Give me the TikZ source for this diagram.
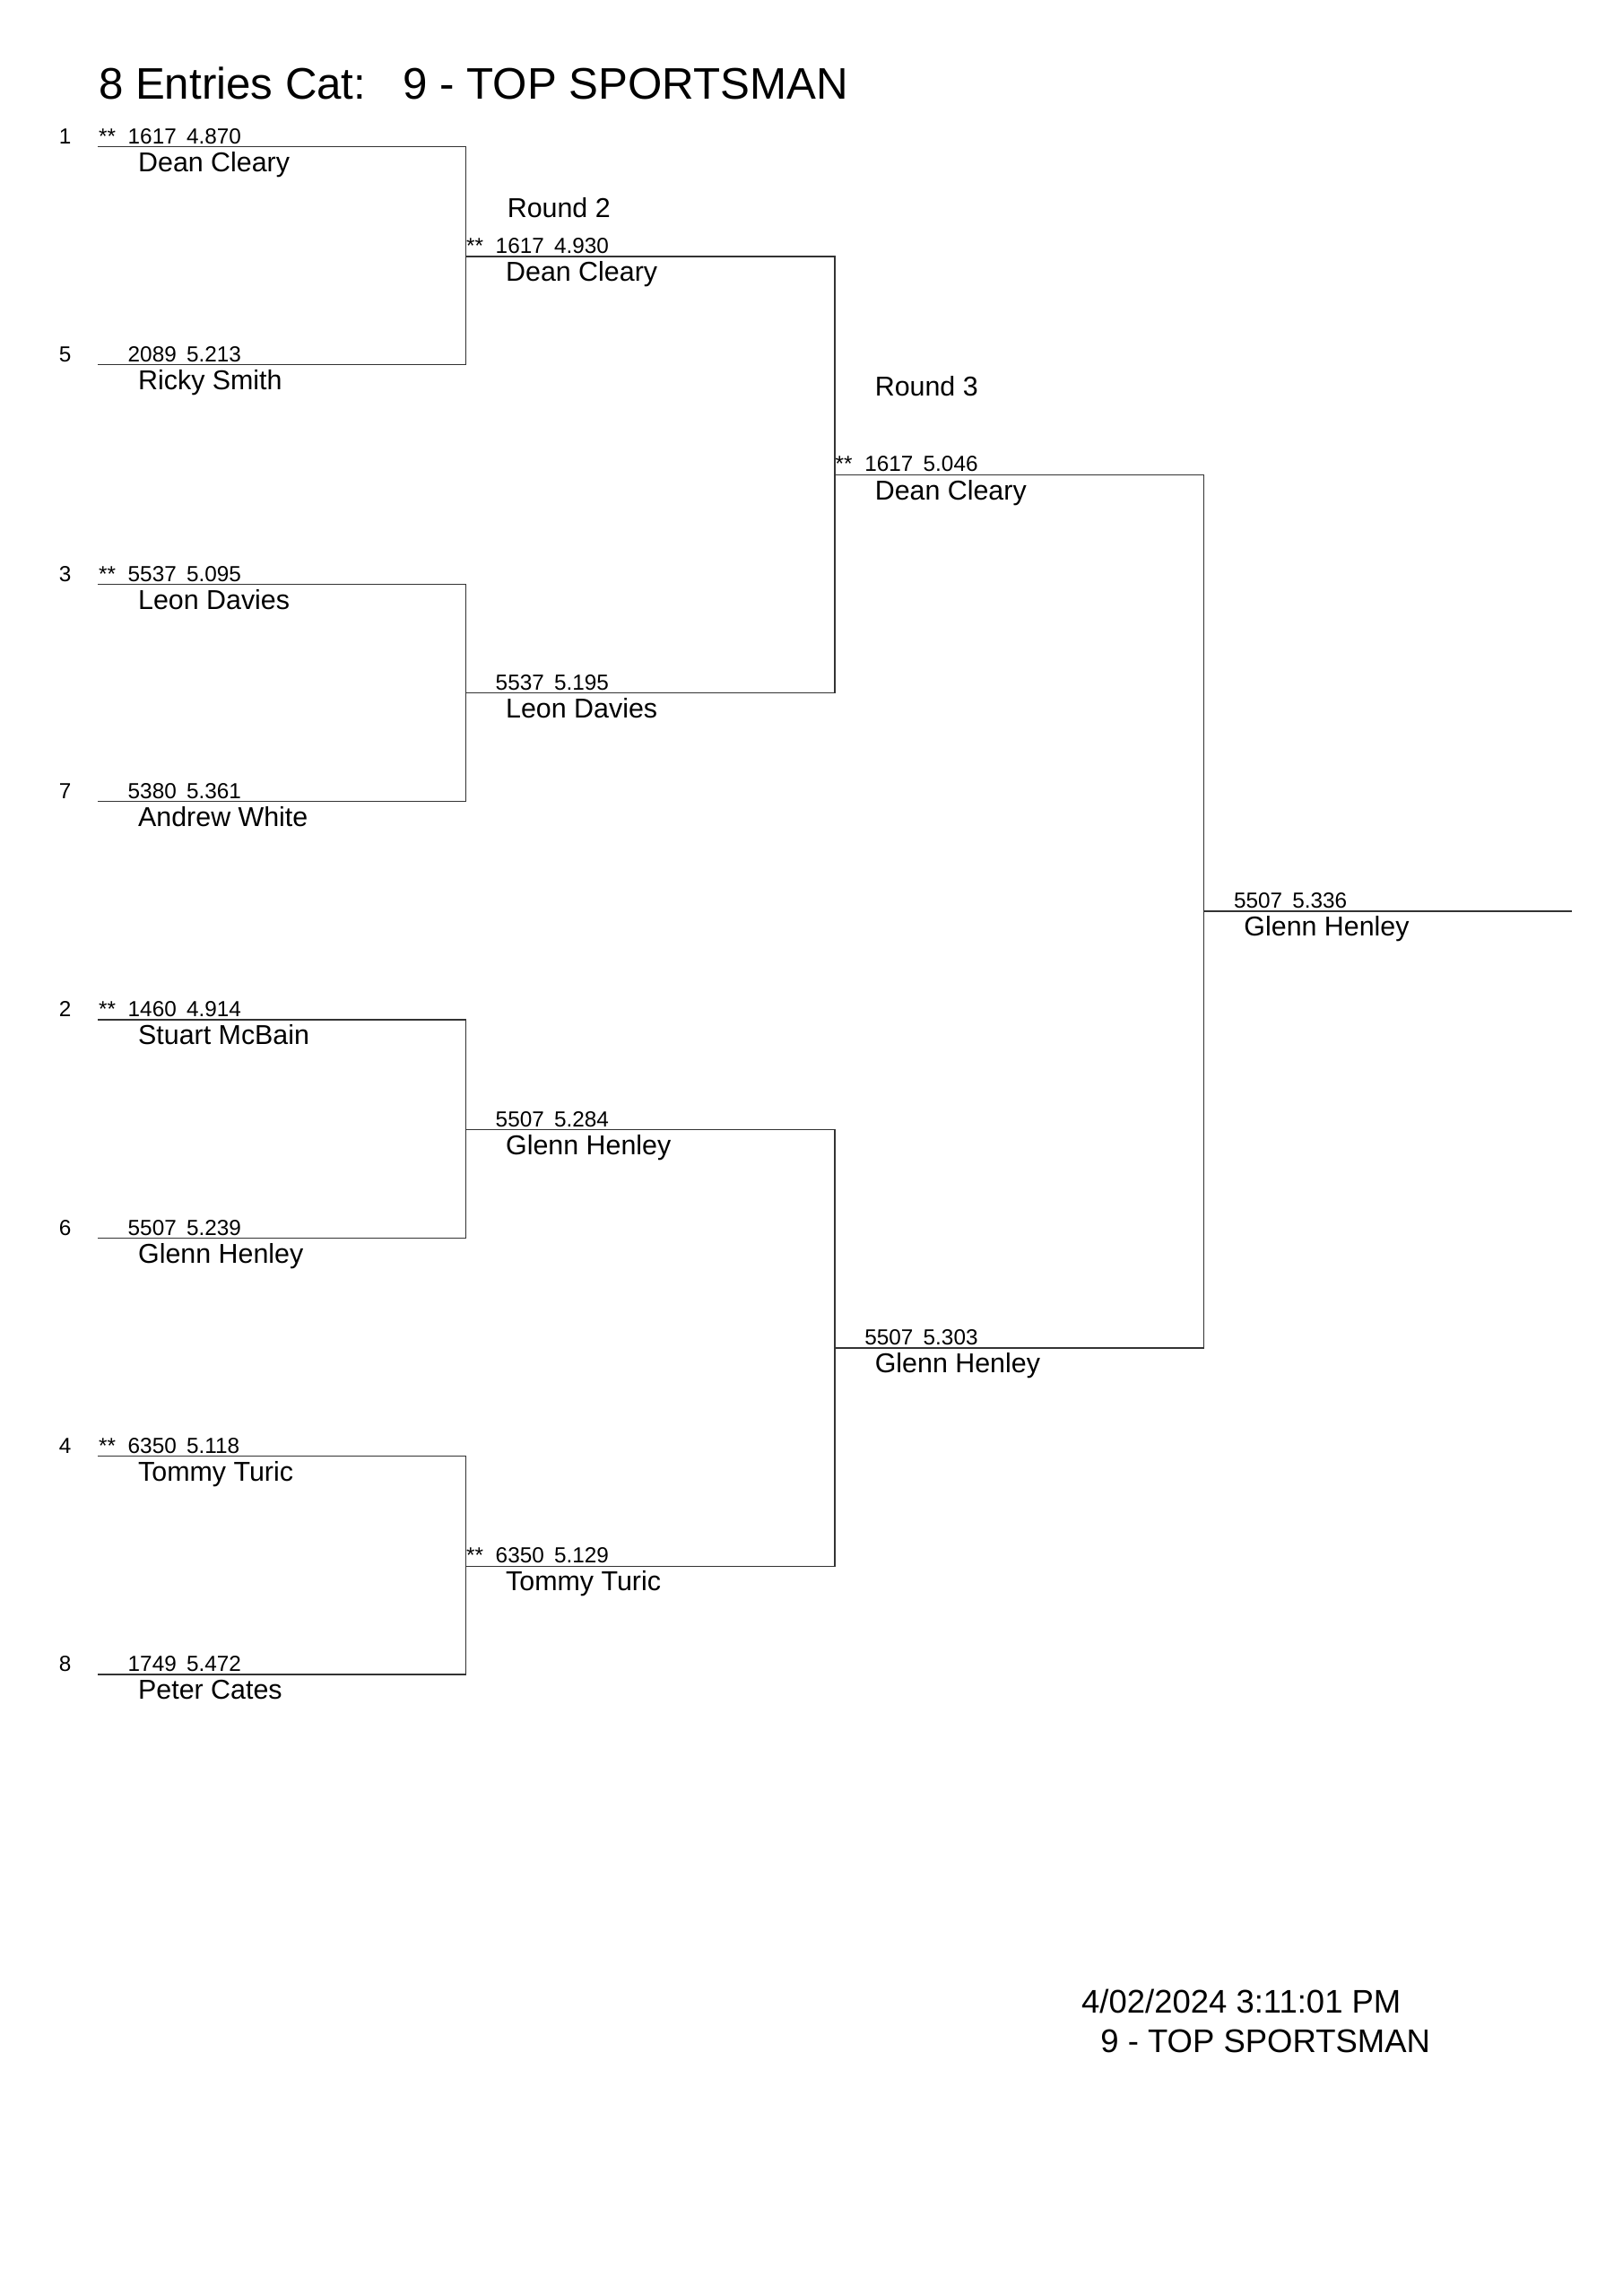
\documentclass[tikz,border=0pt]{standalone}
\usepackage{fontspec}
\setmainfont{Liberation Sans}
\tikzset{
  racer/.style={anchor=base west, inner sep=0pt, font=\fontsize{10}{12}\selectfont},
  times/.style={anchor=base west, inner sep=0pt, font=\fontsize{8}{10}\selectfont},
  ladder/.style={black!80, line width=0.45pt}
}
\begin{document}
\begin{tikzpicture}[x=0.5373pt, y=-0.5373pt]
  \useasboundingbox (0,0) rectangle (1108,1567.2);
  \node[anchor=base west, inner sep=0pt, font=\fontsize{16.2}{19}\selectfont] (title) at (67,67.5) {8 Entries Cat:\ \ \ 9 - TOP SPORTSMAN};

  % every slot of the ladder
  \foreach \n/\x/\y/\st/\car/\et/\who in {
    r1s1/67/100/**/1617/4.870/Dean Cleary, r1s2/67/249//2089/5.213/Ricky Smith,
    r1s3/67/399/**/5537/5.095/Leon Davies, r1s4/67/547//5380/5.361/Andrew White,
    r1s5/67/696/**/1460/4.914/Stuart McBain, r1s6/67/845//5507/5.239/Glenn Henley,
    r1s7/67/994/**/6350/5.118/Tommy Turic, r1s8/67/1143//1749/5.472/Peter Cates,
    r2s1/318/175/**/1617/4.930/Dean Cleary, r2s2/318/473//5537/5.195/Leon Davies,
    r2s3/318/771//5507/5.284/Glenn Henley, r2s4/318/1069/**/6350/5.129/Tommy Turic,
    r3s1/570/324/**/1617/5.046/Dean Cleary, r3s2/570/920//5507/5.303/Glenn Henley,
    r4s1/822/622//5507/5.336/Glenn Henley} {
    \coordinate (\n) at (\x,\y);
    \node[times] (\n-st) at (\x,\y-2) {\st};
    \node[times] (\n-car) at (\x+20,\y-2) {\car};
    \node[times] (\n-et) at (\x+60,\y-2) {\et};
    \node[racer] (\n-who) at (\x+27,\y+17) {\who};
  };

  % seeds
  \foreach \i/\seed in {1/1,2/5,3/3,4/7,5/2,6/6,7/4,8/8}
    \node[times] (seed\i) at (40,0 |- r1s\i) [yshift=2*0.5373pt] {\seed};

  \node[racer] (round2) at (346,148.5) {Round 2};
  \node[racer] (round3) at (597,270.5) {Round 3};

  % brackets
  \foreach \a/\b/\w in {r1s1/r1s2/r2s1, r1s3/r1s4/r2s2, r1s5/r1s6/r2s3, r1s7/r1s8/r2s4,
                        r2s1/r2s2/r3s1, r2s3/r2s4/r3s2, r3s1/r3s2/r4s1}
    \draw[ladder] (\a) -- (\a -| \w) -- (\b -| \w) -- (\b);
  \coordinate (champ) at (1073,622);
  \draw[ladder] (r4s1) -- (champ);

  \node[anchor=base west, inner sep=0pt, font=\fontsize{12}{14}\selectfont] (stamp) at (738,1374) {4/02/2024 3:11:01 PM};
  \node[anchor=base west, inner sep=0pt, font=\fontsize{12}{14}\selectfont] (stampcat) at (751,1401) {9 - TOP SPORTSMAN};
\end{tikzpicture}
\end{document}
